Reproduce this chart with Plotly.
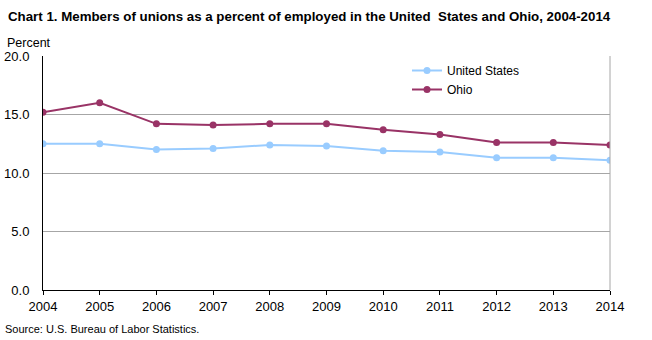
import plotly.graph_objects as go

years = [2004, 2005, 2006, 2007, 2008, 2009, 2010, 2011, 2012, 2013, 2014]
united_states = [12.5, 12.5, 12.0, 12.1, 12.4, 12.3, 11.9, 11.8, 11.3, 11.3, 11.1]
ohio = [15.2, 16.0, 14.2, 14.1, 14.2, 14.2, 13.7, 13.3, 12.6, 12.6, 12.4]
y_ticks = [0, 5, 10, 15, 20]
y_tick_labels = ["0.0", "5.0", "10.0", "15.0", "20.0"]

FONT = "Liberation Sans, Arial, sans-serif"
PW, PH = 567, 234  # plot area size in px

fig = go.Figure()
fig.add_trace(go.Scatter(
    x=years, y=united_states, name="United States", mode="lines+markers",
    line=dict(color="#99CCFF", width=2), marker=dict(size=7, color="#99CCFF"),
))
fig.add_trace(go.Scatter(
    x=years, y=ohio, name="Ohio", mode="lines+markers",
    line=dict(color="#993366", width=2), marker=dict(size=7, color="#993366"),
))

# right-hand frame edge in gray
fig.add_shape(type="line", xref="paper", yref="paper", x0=1, x1=1, y0=0, y1=1,
              line=dict(color="#A6A6A6", width=1))

fig.update_layout(
    width=652, height=340,
    margin=dict(l=43, r=42, t=56, b=50, autoexpand=False),
    paper_bgcolor="white", plot_bgcolor="white",
    font=dict(family=FONT, size=12, color="black"),
    showlegend=True,
    legend=dict(x=(407 - 43) / PW, y=1.0, xanchor="left", yanchor="top",
                bgcolor="rgba(0,0,0,0)", font=dict(size=12), tracegroupgap=0,
                itemwidth=30),
    xaxis=dict(
        range=[2004, 2014], tickmode="array", tickvals=years,
        ticktext=[str(y) for y in years], automargin=False,
        showgrid=False, zeroline=False, showline=True, linecolor="black",
        linewidth=1, ticks="outside", ticklen=4, tickcolor="black",
        tickfont=dict(size=13),
    ),
    yaxis=dict(
        range=[0, 20], tickmode="array", tickvals=y_ticks, ticktext=y_tick_labels,
        automargin=False,
        showgrid=True, gridcolor="#A6A6A6", gridwidth=1, zeroline=False,
        showline=True, linecolor="black", linewidth=1, ticks="",
        tickfont=dict(size=13), ticklabelstandoff=10,
    ),
    annotations=[
        dict(text="<b>Chart 1. Members of unions as a percent of employed in the United  States and Ohio, 2004-2014</b>",
             xref="paper", yref="paper", x=-37 / PW, y=1 + 39 / PH, xanchor="left", yanchor="middle",
             showarrow=False, font=dict(size=13.3, family=FONT)),
        dict(text="Percent", xref="paper", yref="paper", x=-38 / PW, y=1 + 13 / PH,
             xanchor="left", yanchor="middle", showarrow=False, font=dict(size=12.5)),
        dict(text="Source: U.S. Bureau of Labor Statistics.", xref="paper", yref="paper",
             x=-40 / PW, y=-39 / PH, xanchor="left", yanchor="middle", showarrow=False,
             font=dict(size=11)),
    ],
)

fig.write_html("out.html")
